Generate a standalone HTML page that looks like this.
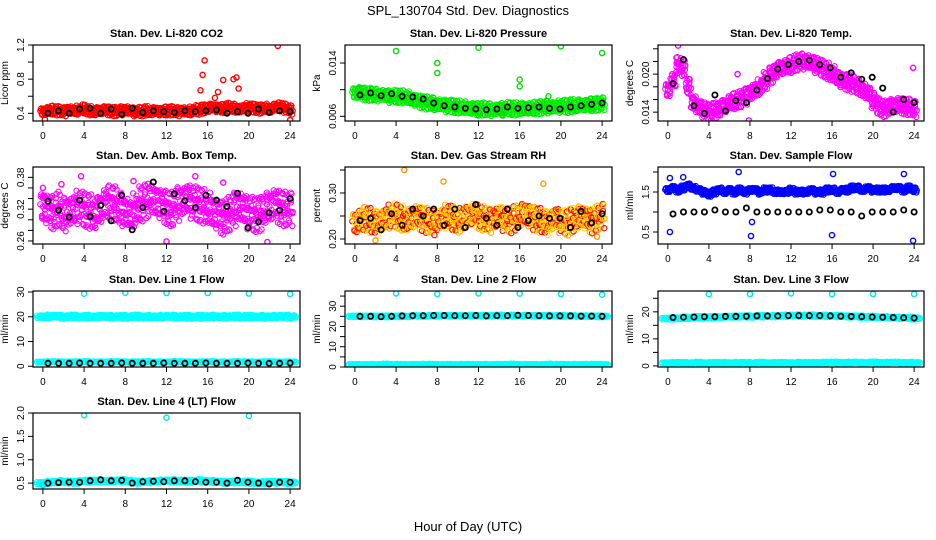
<!DOCTYPE html>
<html><head><meta charset="utf-8">
<style>
html,body{margin:0;padding:0;background:#fff;}
svg{display:block;font-family:"Liberation Sans",sans-serif;}
</style></head>
<body>
<svg id="chart" width="936" height="540" viewBox="0 0 936 540" xmlns="http://www.w3.org/2000/svg">
<rect width="936" height="540" fill="#fff"/>
<text x="468" y="15" text-anchor="middle" font-size="13">SPL_130704  Std. Dev. Diagnostics</text>
<text x="468" y="531" text-anchor="middle" font-size="13">Hour of Day (UTC)</text>
</svg>
<script>
// ---- data (std dev values, hour of day 0..24) ----
const co2Mid=[0.42,0.43,0.44,0.43,0.42,0.44,0.43,0.44,0.45,0.43,0.42,0.43,0.44,0.43,0.42,0.43,0.44,0.43,0.42,0.42,0.43,0.42,0.43,0.42,0.43,0.43,0.42,0.43,0.42,0.43,0.44,0.45,0.46,0.47,0.46,0.46,0.47,0.46,0.45,0.46,0.47,0.46,0.45,0.46,0.45,0.47,0.48,0.46,0.44];
const co2Black=[0.40,0.43,0.40,0.45,0.46,0.40,0.45,0.39,0.46,0.41,0.43,0.42,0.41,0.43,0.42,0.43,0.44,0.40,0.42,0.40,0.45,0.41,0.43,0.42];
const co2OutX=[15.5,15.7,15.3,17,17.5,18.5,18.8,19,16.7,22.8,24,0.2];
const co2OutY=[0.85,1.02,0.67,0.65,0.79,0.80,0.82,0.69,0.58,1.19,0.32,0.33];

const presMid=[0.0095,0.0096,0.0094,0.0093,0.0092,0.0092,0.0091,0.0090,0.0090,0.0089,0.0088,0.0086,0.0084,0.0082,0.0080,0.0079,0.0078,0.0077,0.0076,0.0075,0.0074,0.0073,0.0072,0.0072,0.0071,0.0071,0.0070,0.0070,0.0071,0.0071,0.0072,0.0071,0.0071,0.0072,0.0072,0.0073,0.0073,0.0074,0.0074,0.0074,0.0075,0.0075,0.0076,0.0076,0.0077,0.0077,0.0078,0.0078,0.0079];
const presBlack=[0.0092,0.0095,0.0091,0.0094,0.0090,0.0089,0.0086,0.0080,0.0076,0.0074,0.0072,0.0071,0.0070,0.0071,0.0074,0.0072,0.0073,0.0074,0.0072,0.0071,0.0074,0.0076,0.0078,0.0080];
const presOutX=[4,8,8,12,16,16,20,24,14.3,18.8,21.5,0.4];
const presOutY=[0.0158,0.0140,0.0125,0.0163,0.0115,0.0105,0.0165,0.0155,0.0062,0.0090,0.0068,0.0102];

const tempMid=[0.0175,0.019,0.0215,0.021,0.018,0.0155,0.0148,0.0145,0.014,0.0142,0.0145,0.015,0.0155,0.0158,0.016,0.0165,0.017,0.0175,0.018,0.019,0.0198,0.0205,0.021,0.0212,0.0215,0.0218,0.022,0.022,0.0218,0.0215,0.021,0.0205,0.020,0.0195,0.019,0.0188,0.0185,0.018,0.0175,0.017,0.016,0.015,0.0145,0.0148,0.015,0.0152,0.015,0.0148,0.0145];
const tempBlack=[0.0185,0.0223,0.0150,0.0138,0.0167,0.0142,0.0158,0.0155,0.0175,0.0193,0.0208,0.0215,0.0220,0.0222,0.0215,0.0210,0.0195,0.0202,0.0192,0.0195,0.0178,0.0140,0.0160,0.0155];
const tempOutX=[1,6.8,23.9,7.9];
const tempOutY=[0.0245,0.0200,0.0210,0.0127];

const ambMid=[0.325,0.32,0.315,0.32,0.31,0.315,0.32,0.325,0.32,0.315,0.31,0.32,0.33,0.335,0.33,0.32,0.315,0.31,0.32,0.33,0.335,0.34,0.335,0.33,0.325,0.32,0.33,0.335,0.34,0.335,0.33,0.325,0.32,0.315,0.31,0.305,0.31,0.32,0.325,0.32,0.315,0.31,0.31,0.32,0.325,0.33,0.325,0.32,0.32];
const ambBlack=[0.335,0.318,0.305,0.337,0.306,0.327,0.298,0.346,0.281,0.323,0.371,0.316,0.349,0.336,0.323,0.346,0.337,0.325,0.350,0.285,0.296,0.313,0.318,0.340];
const ambOutX=[3.7,8.8,12,14.8,21.8,0,1.8,17.5];
const ambOutY=[0.382,0.373,0.259,0.382,0.258,0.360,0.367,0.370];

const rhMid=[0.235,0.24,0.245,0.24,0.235,0.24,0.245,0.25,0.25,0.245,0.24,0.245,0.25,0.245,0.24,0.235,0.24,0.245,0.25,0.245,0.24,0.245,0.25,0.255,0.25,0.245,0.24,0.245,0.25,0.245,0.24,0.245,0.25,0.255,0.25,0.245,0.24,0.235,0.24,0.245,0.24,0.235,0.24,0.245,0.25,0.245,0.24,0.245,0.25];
const rhBlack=[0.24,0.245,0.22,0.255,0.23,0.265,0.25,0.265,0.23,0.265,0.225,0.275,0.245,0.23,0.265,0.225,0.24,0.25,0.245,0.245,0.225,0.26,0.235,0.255];
const rhOutX=[4.8,2,18.3,23.5,8.6];
const rhOutY=[0.350,0.197,0.320,0.205,0.325];

const flowMid=[1.55,1.6,1.55,1.6,1.65,1.6,1.55,1.5,1.45,1.5,1.55,1.5,1.55,1.5,1.55,1.5,1.55,1.55,1.5,1.55,1.55,1.5,1.5,1.5,1.55,1.5,1.5,1.5,1.55,1.5,1.5,1.55,1.55,1.5,1.55,1.55,1.6,1.6,1.55,1.6,1.55,1.55,1.55,1.55,1.6,1.6,1.55,1.6,1.55];
const flowBlack=[0.95,1.0,1.0,1.0,1.05,1.0,1.0,1.1,1.0,1.0,1.0,1.0,1.0,1.0,1.05,1.05,1.0,1.0,0.9,1.0,1.0,1.0,1.05,1.0];
const flowOutX=[0.2,0.2,6.9,8.1,8.2,16,16.1,23.9,1.5,23];
const flowOutY=[0.50,1.85,2.00,0.40,0.75,0.42,1.95,0.28,1.87,1.95];

const l1Hi=[20,20.2,20,20.1,20,20,20.1,20,20,20.1,20,20,20.1,20,20,20,20.1,20,20,20.1,20,20,20,20.1,20];
const l1Lo=[1.7,1.8,1.7,1.7,1.8,1.7,1.7,1.8,1.7,1.7,1.8,1.7,1.7,1.8,1.7,1.7,1.8,1.7,1.7,1.8,1.7,1.7,1.8,1.7,1.7];
const l1Black=[1.2,1.2,1.2,1.3,1.2,1.2,1.2,1.3,1.2,1.2,1.2,1.3,1.2,1.2,1.2,1.3,1.2,1.2,1.2,1.3,1.2,1.2,1.2,1.3];
const l1OutX=[4,8,12,16,20,24];
const l1OutY=[29.3,29.7,29.6,29.6,29.4,29.2];

const l2Hi=[25,25,25,25,25,25,25.2,25.2,25.3,25.3,25.3,25.3,25.3,25.3,25.4,25.4,25.3,25.3,25.3,25.3,25.2,25.2,25.1,25.1,25];
const l2Lo=[1.2,1.2,1.2,1.3,1.2,1.2,1.2,1.3,1.2,1.2,1.2,1.3,1.2,1.2,1.2,1.3,1.2,1.2,1.2,1.3,1.2,1.2,1.2,1.3,1.2];
const l2Black=[25,25,24.8,25,25.2,25.3,25.3,25.4,25.4,25.3,25.3,25.4,25.2,25.3,25.3,25.5,25.4,25.3,25.2,25.2,25.2,25.1,25.1,25];
const l2OutX=[4,8,12,16,20,24];
const l2OutY=[36.3,36.0,36.3,36.2,36.0,35.7];

const l3Hi=[17.5,17.6,17.8,18,18,18.1,18.2,18.3,18.3,18.4,18.4,18.5,18.6,18.6,18.6,18.5,18.5,18.4,18.3,18.2,18.1,18,17.9,17.8,17.6];
const l3Lo=[1.1,1.2,1.1,1.2,1.1,1.2,1.1,1.2,1.1,1.2,1.1,1.2,1.1,1.2,1.1,1.2,1.3,1.2,1.3,1.2,1.3,1.2,1.3,1.2,1.2];
const l3Black=[17.9,18,18.1,18.2,18.2,18.3,18.3,18.4,18.5,18.5,18.5,18.6,18.6,18.6,18.6,18.5,18.4,18.3,18.2,18.1,18,17.9,17.8,17.7];
const l3OutX=[4,8,12,16,20,24];
const l3OutY=[26.5,26.6,26.8,26.6,26.6,26.6];

const l4Mid=[0.5,0.52,0.53,0.52,0.54,0.55,0.54,0.55,0.55,0.52,0.53,0.54,0.55,0.55,0.54,0.55,0.54,0.53,0.52,0.53,0.52,0.51,0.52,0.52,0.51];
const l4Black=[0.50,0.51,0.52,0.52,0.55,0.57,0.55,0.56,0.50,0.53,0.54,0.53,0.55,0.55,0.53,0.52,0.52,0.50,0.56,0.52,0.50,0.48,0.52,0.52];
const l4OutX=[4,12,20,0];
const l4OutY=[1.95,1.90,1.94,0.45];

const xTicks=[0,4,8,12,16,20,24];

// ---- layout ----
const svg=document.getElementById('chart');
const NS='http://www.w3.org/2000/svg';
const colX=[[33,300],[345,612],[658,924]];
const rowY=[[45,121],[167,244],[291,367],[413,489]];
const JIT=[0,0.55,-0.6,0.3,-0.25,0.7,-0.45,0.15,-0.7,0.4,-0.1];

function mk(tag,attrs,parent){const e=document.createElementNS(NS,tag);for(const k in attrs)e.setAttribute(k,attrs[k]);(parent||svg).appendChild(e);return e;}

let clipId=0;
function panel(p){
  const [x0,x1]=colX[p.col],[y0,y1]=rowY[p.row];
  const g=mk('g',{});
  
  
  const xs=h=>x0+(h+0.96)/25.92*(x1-x0);
  const ys=v=>y1-(v-p.ymin)/(p.ymax-p.ymin)*(y1-y0);
  const cid='c'+(clipId++);
  const cp=mk('clipPath',{id:cid},g);mk('rect',{x:x0,y:y0,width:x1-x0,height:y1-y0},cp);
  const marks=mk('g',{'clip-path':'url(#'+cid+')'},g);
  
  
  function circ(h,v,col,w){
    const c=mk('circle',{cx:xs(h).toFixed(1),cy:ys(v).toFixed(1),r:2.6,fill:'none',stroke:col,'stroke-width':w},marks);
    
    
  }
  (p.clouds||[]).forEach(cl=>{
    const n=cl.vals.length, step=24/(n-1);
    const sub=n>30?[-1,0,1]:[-2,-1,0,1,2];
    cl.vals.forEach((v,i)=>{
      const h0=i*step;
      sub.forEach(j=>{
        for(let k=-2;k<=2;k++){
          const jit=JIT[(i*5+j*3+k*7+33)%11];
          const jit2=JIT[(i*7+j*2+k*3+44)%11];
          const hh=h0+j*step/sub.length+jit*step/4;
          const vv=v+(k/2)*cl.spread*0.85+jit2*cl.spread*0.35;
          const col=cl.colors[(i+j+k+10)%cl.colors.length];
          circ(hh,vv,col,1.1);
        }
      });
    });
  });
  (p.outX||[]).forEach((h,i)=>circ(h,p.outY[i],p.outCol,1.4));
  if(p.black){p.black.forEach((v,i)=>circ(0.5+i*(23.5/(p.black.length-1)),v,'#000',1.8));}
  const b=mk('rect',{x:x0,y:y0,width:x1-x0,height:y1-y0,fill:'none',stroke:'#000','stroke-width':1.2},g);
  
  
  const xa=mk('g',{},g);
  
  
  mk('line',{x1:xs(0),x2:xs(24),y1:y1,y2:y1,stroke:'#000'},xa);
  xTicks.forEach(t=>{
    mk('line',{x1:xs(t),x2:xs(t),y1:y1,y2:y1+5,stroke:'#000'},xa);
    const tx=mk('text',{x:xs(t),y:y1+18,'text-anchor':'middle','font-size':10},xa);tx.textContent=t;
  });
  const ya=mk('g',{},g);
  
  
  const ty=p.ticks.map(ys);
  mk('line',{x1:x0,x2:x0,y1:Math.min(...ty),y2:Math.max(...ty),stroke:'#000'},ya);
  p.ticks.forEach((t,i)=>{
    mk('line',{x1:x0-5,x2:x0,y1:ty[i],y2:ty[i],stroke:'#000'},ya);
  });
  p.labels.forEach(t=>{
    const yy=ys(t);
    const tx=mk('text',{x:x0-9,y:yy,'text-anchor':'middle','font-size':10,transform:'rotate(-90 '+(x0-9)+' '+yy+')'},ya);
    tx.textContent=p.fmt?p.fmt(t):t;
  });
  const yt=mk('text',{x:x0-25,y:(y0+y1)/2,'text-anchor':'middle','font-size':10,transform:'rotate(-90 '+(x0-25)+' '+((y0+y1)/2)+')'},g);
  
  
  yt.textContent=p.ylab;
  const tt=mk('text',{x:(x0+x1)/2,y:y0-8,'text-anchor':'middle','font-size':11,'font-weight':'bold'},g);
  
  
  tt.textContent=p.title;
}

const red=['#ff0000'],grn=['#00dd00','#00ff00'],mag=['#ff00ff'],org=['#ff0000','#ffdd00','#ffaa00'],blu=['#0000ff'],cy=['#00ffff'];
panel({name:'co2-panel',col:0,row:0,title:'Stan. Dev. Li-820 CO2',ylab:'Licor ppm',ymin:0.31,ymax:1.2,ticks:[0.4,0.6,0.8,1.0,1.2],labels:[0.4,0.8,1.2],fmt:v=>v.toFixed(1),
  clouds:[{vals:co2Mid,spread:0.05,colors:red}],outX:co2OutX,outY:co2OutY,outCol:'#ff0000',black:co2Black});
panel({name:'pressure-panel',col:1,row:0,title:'Stan. Dev. Li-820 Pressure',ylab:'kPa',ymin:0.0053,ymax:0.0167,ticks:[0.006,0.010,0.014],labels:[0.006,0.014],fmt:v=>v.toFixed(3),
  clouds:[{vals:presMid,spread:0.0009,colors:grn}],outX:presOutX,outY:presOutY,outCol:'#00dd00',black:presBlack});
panel({name:'li820-temp-panel',col:2,row:0,title:'Stan. Dev. Li-820 Temp.',ylab:'degrees C',ymin:0.0126,ymax:0.0246,ticks:[0.014,0.016,0.018,0.020,0.022,0.024],labels:[0.014,0.020],fmt:v=>v.toFixed(3),
  clouds:[{vals:tempMid,spread:0.0012,colors:mag}],outX:tempOutX,outY:tempOutY,outCol:'#ff00ff',black:tempBlack});
panel({name:'amb-box-temp-panel',col:0,row:1,title:'Stan. Dev. Amb. Box Temp.',ylab:'degrees C',ymin:0.2543,ymax:0.3995,ticks:[0.26,0.28,0.30,0.32,0.34,0.36,0.38],labels:[0.26,0.32,0.38],fmt:v=>v.toFixed(2),
  clouds:[{vals:ambMid,spread:0.03,colors:mag}],outX:ambOutX,outY:ambOutY,outCol:'#ff00ff',black:ambBlack});
panel({name:'gas-rh-panel',col:1,row:1,title:'Stan. Dev. Gas Stream RH',ylab:'percent',ymin:0.1891,ymax:0.3565,ticks:[0.20,0.25,0.30,0.35],labels:[0.20,0.30],fmt:v=>v.toFixed(2),
  clouds:[{vals:rhMid,spread:0.025,colors:org}],outX:rhOutX,outY:rhOutY,outCol:'#ff9900',black:rhBlack});
panel({name:'sample-flow-panel',col:2,row:1,title:'Stan. Dev. Sample Flow',ylab:'ml/min',ymin:0.2,ymax:2.125,ticks:[0.5,1.0,1.5,2.0],labels:[0.5,1.5],fmt:v=>v.toFixed(1),
  clouds:[{vals:flowMid,spread:0.06,colors:blu}],outX:flowOutX,outY:flowOutY,outCol:'#0000ff',black:flowBlack});
panel({name:'line1-flow-panel',col:0,row:2,title:'Stan. Dev. Line 1 Flow',ylab:'ml/min',ymin:-0.3,ymax:30.4,ticks:[0,10,20,30],labels:[0,10,20,30],
  clouds:[{vals:l1Hi,spread:0.7,colors:cy},{vals:l1Lo,spread:0.25,colors:cy}],outX:l1OutX,outY:l1OutY,outCol:'#00e5e5',black:l1Black});
panel({name:'line2-flow-panel',col:1,row:2,title:'Stan. Dev. Line 2 Flow',ylab:'ml/min',ymin:0,ymax:37.5,ticks:[0,5,10,15,20,25,30,35],labels:[0,10,20,30],
  clouds:[{vals:l2Hi,spread:0.4,colors:cy},{vals:l2Lo,spread:0.3,colors:cy}],outX:l2OutX,outY:l2OutY,outCol:'#00e5e5',black:l2Black});
panel({name:'line3-flow-panel',col:2,row:2,title:'Stan. Dev. Line 3 Flow',ylab:'ml/min',ymin:-0.4,ymax:27.7,ticks:[0,5,10,15,20,25],labels:[0,10,20],
  clouds:[{vals:l3Hi,spread:0.4,colors:cy},{vals:l3Lo,spread:0.3,colors:cy}],outX:l3OutX,outY:l3OutY,outCol:'#00e5e5',black:l3Black});
panel({name:'line4-flow-panel',col:0,row:3,title:'Stan. Dev. Line 4 (LT) Flow',ylab:'ml/min',ymin:0.374,ymax:2.0,ticks:[0.5,1.0,1.5,2.0],labels:[0.5,1.0,1.5,2.0],fmt:v=>v.toFixed(1),
  clouds:[{vals:l4Mid,spread:0.03,colors:cy}],outX:l4OutX,outY:l4OutY,outCol:'#00e5e5',black:l4Black});
</script>
</body></html>
